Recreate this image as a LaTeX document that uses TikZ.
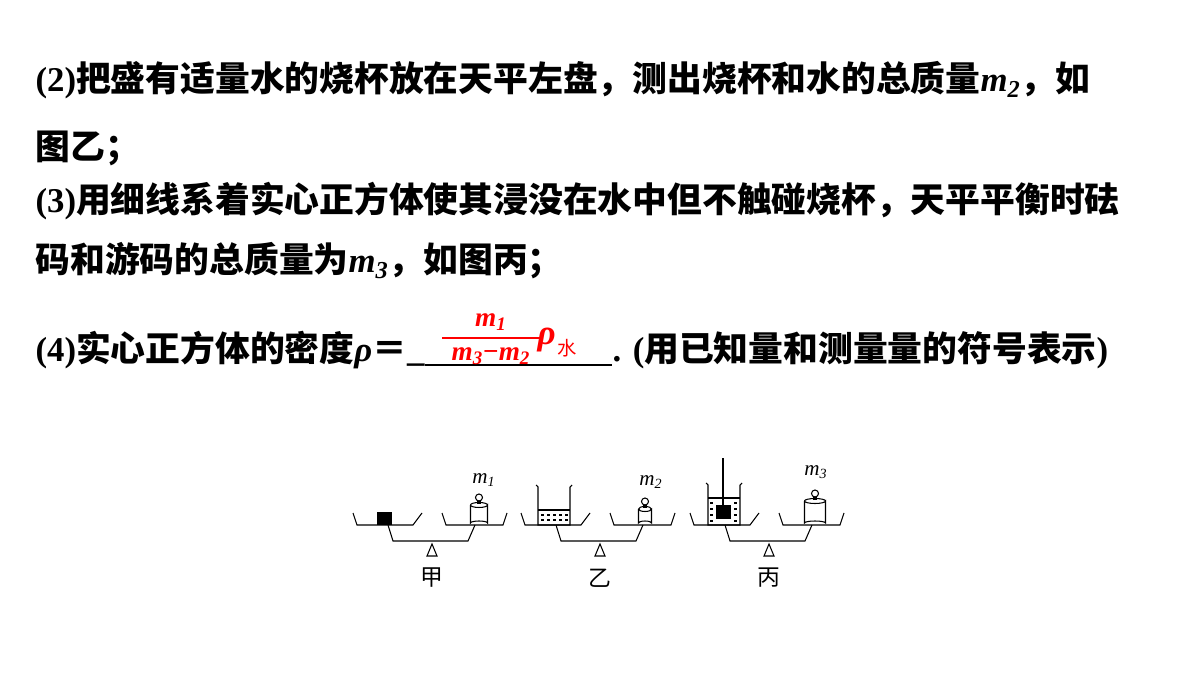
\documentclass[tikz,border=0pt]{standalone}
\usepackage{fontspec}
\setmainfont{Liberation Serif}
\newfontfamily\cjk{Noto Sans CJK SC}
\usetikzlibrary{positioning}
\tikzset{
  txt/.style={anchor=base west, inner sep=0pt, font=\fontsize{19.8}{19.8}\selectfont\bfseries},
  figlabel/.style={inner sep=0pt, font=\fontsize{13}{13}\selectfont\cjk},
  mass/.style={inner sep=0pt, font=\fontsize{12}{12}\selectfont},
  ans/.style={red, inner sep=0pt, font=\fontsize{15.5}{15.5}\selectfont\bfseries},
}
\newcommand{\weightat}[4]{% x, bottom y, half width, height
  \draw[fill=white] (#1-#3,#2-#4) -- (#1-#3,#2-2) arc[start angle=180,end angle=360,x radius=#3,y radius=2]
    -- (#1+#3,#2-#4) arc[start angle=0,end angle=180,x radius=#3,y radius=2.5];
  \draw (#1-#3,#2-#4) arc[start angle=180,end angle=360,x radius=#3,y radius=2.5];
  \draw[fill=white] (#1-1.5,#2-#4-2) rectangle (#1+1.5,#2-#4-4);
  \draw[fill=white] (#1,#2-#4-7.5) circle[radius=3.5];
}
\begin{document}
\begin{tikzpicture}[x=0.02cm,y=-0.02cm, line width=0.6pt]
\useasboundingbox (0,0) rectangle (1200,675);
% text lines
\node[txt] (l1) at (35,92) {(2)\cjk 把盛有适量水的烧杯放在天平左盘，测出烧杯和水的总质量\rmfamily\itshape m\textsubscript{2}\cjk\upshape ，如};
\node[txt] (l2) at (35,160) {\cjk 图乙；};
\node[txt] (l3) at (35,213) {(3)\cjk 用细线系着实心正方体使其浸没在水中但不触碰烧杯，天平平衡时砝};
\node[txt] (l4) at (35,273) {\cjk 码和游码的总质量为\rmfamily\itshape m\textsubscript{3}\cjk\upshape ，如图丙；};
\node[txt] (l5) at (35,362) {(4)\cjk 实心正方体的密度\rmfamily\itshape ρ\upshape\cjk ＝\rmfamily\_};
\node[txt] (l6) at (612,362) {. (\cjk 用已知量和测量量的符号表示\rmfamily )};
\draw (425,365) -- (612,365);
% answer
\node[ans] (num) at (491,322) {\itshape m\textsubscript{1}};
\node[ans] (den) at (491,356) {\itshape m\textsubscript{3}\upshape −\itshape m\textsubscript{2}};
\draw[red, line width=1.6pt] (442,338) -- (540,338);
\node[ans, anchor=west, font=\fontsize{20}{20}\selectfont\bfseries\itshape] (rho) at (537,340) {ρ};
\node[ans, anchor=west, font=\fontsize{11}{11}\selectfont\cjk] (shui) at (557,348) {水};
% balances
\foreach \dx/\lab in {0/甲,168/乙,337/丙}{
  \begin{scope}[xshift=\dx*0.02cm]
    \draw (353,513) -- (357,525) -- (413,525) -- (422,513);
    \draw (442,513) -- (446,525) -- (503,525) -- (507,513);
    \draw (388,525) -- (393,541) -- (468,541) -- (475,525);
    \draw (432,544) -- (427,556) -- (437,556) -- cycle;
    \node[figlabel] at (432,578) {\lab};
  \end{scope}
}
% 甲
\fill (377,512) rectangle (392,525);
\weightat{479}{525}{8.5}{20}
\node[mass] (m1) at (484,480) {\itshape m\textsubscript{1}};
% 乙
\draw (536,485) -- (538,487) -- (538,525) -- (570,525) -- (570,487) -- (572,485);
\draw (538,510) -- (570,510);
\foreach \y in {515,520}{\foreach \x in {541,547,...,566}{\draw (\x,\y) -- (\x+3,\y);}}
\weightat{645}{525}{6.5}{16}
\node[mass] (m2) at (651,482) {\itshape m\textsubscript{2}};
% 丙
\draw (706,483) -- (708,485) -- (708,525) -- (740,525) -- (740,485) -- (742,483);
\draw (708,498) -- (740,498);
\foreach \y in {503,509,515,521}{\foreach \x in {710,734}{\draw (\x,\y) -- (\x+3,\y);}}
\draw (723,458) -- (723,505);
\fill (716,505) rectangle (731,519);
\weightat{815}{525}{10.5}{24}
\node[mass] (m3) at (816,472) {\itshape m\textsubscript{3}};
\end{tikzpicture}
\end{document}
